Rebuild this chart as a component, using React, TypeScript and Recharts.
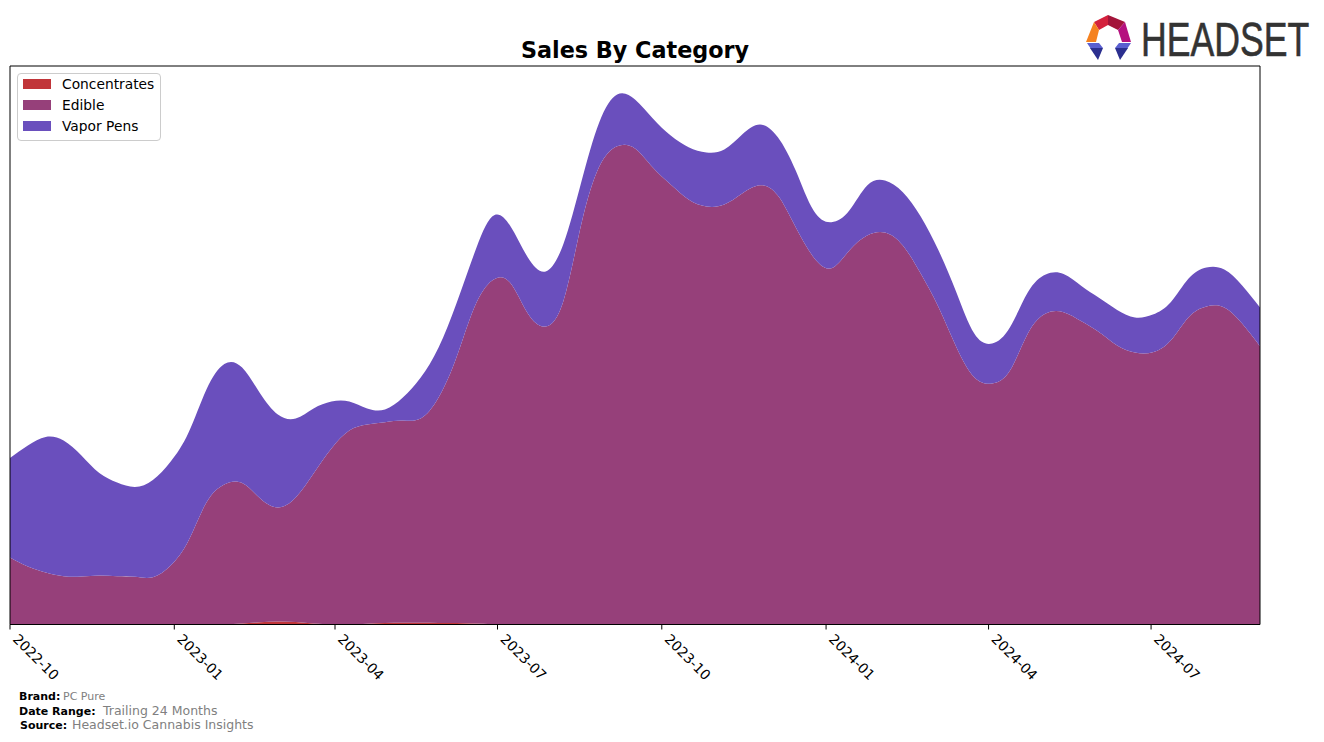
import { Area, AreaChart, Legend, ReferenceLine, XAxis, YAxis } from 'recharts';

// days since 2022-10-01, one reading every 10 days
const days = [
  0, 10, 20, 30, 40, 50, 60, 70, 80, 90, 100, 110, 120, 130, 140, 150, 160, 170, 180, 190, 200, 210, 220, 230,
  240, 250, 260, 270, 280, 290, 300, 310, 320, 330, 340, 350, 360, 370, 380, 390, 400, 410, 420, 430, 440, 450,
  460, 470, 480, 490, 500, 510, 520, 530, 540, 550, 560, 570, 580, 590, 600, 610, 620, 630, 640, 650, 660, 670,
  680, 690, 700,
];

const concentrates = [
  0, 0, 0, 0, 0, 0, 0, 0, 0, 0, 0, 0, 0.3, 1, 2.2, 3, 2.5, 1, 0.3, 0, 0.8, 1.6, 1.8, 1.8, 1.6, 1.4, 1, 0.3, 0, 0, 0, 0,
  0, 0, 0, 0, 0, 0, 0, 0, 0, 0, 0, 0, 0, 0, 0, 0, 0, 0, 0, 0, 0, 0, 0, 0, 0, 0, 0, 0, 0, 0, 0, 0, 0, 0, 0, 0, 0, 0, 0,
];

const edible = [
  67, 58, 52, 48.3, 48, 49, 48.3, 47.7, 47.3, 59, 84, 122, 139.7, 140.5, 124, 114, 124.5, 150, 175.7, 194, 199.2,
  200.7, 202.2, 204.2, 225.4, 265.6, 316, 343.7, 342, 311, 298, 324, 401, 458, 478.3, 476, 457, 440, 425, 418, 420,
  431, 439.3, 429, 397.3, 367.3, 356.3, 374, 389, 392, 379, 351, 317.3, 277.3, 247.3, 241, 254, 291, 311, 312.3,
  303.3, 292.3, 279, 272, 272.3, 284, 307.3, 318, 317, 301, 278.3,
];

const vaporPens = [
  99.5, 121, 135.5, 135.7, 121, 102.5, 93.7, 89.8, 97.2, 104, 108, 113, 120.5, 115.5, 105, 93, 79, 65, 47, 29, 16,
  12.7, 23, 41, 50, 54, 54, 64, 57, 56, 55, 57, 42, 44.3, 51.7, 49, 49, 49, 52.3, 54, 55, 59, 60.7, 58.3, 56.7,
  46.7, 46, 40, 50, 52, 53.3, 57, 56.7, 54.7, 43.7, 40, 43.3, 41.3, 39, 38.2, 35.2, 34.2, 35.5, 35, 37.7, 38.3, 38.7,
  39, 38, 38, 38.7,
];

const tickDays = [0, 92, 182, 273, 365, 457, 548, 639];
const tickLabels = ['2022-10', '2023-01', '2023-04', '2023-07', '2023-10', '2024-01', '2024-04', '2024-07'];

const seriesNames = ['Concentrates', 'Edible', 'Vapor Pens'];
const seriesColors = ['#c13539', '#96407a', '#6a4fbd'];

const FONT = '"DejaVu Sans", sans-serif';

const chartData = days.map((day, i) => ({
  day,
  Concentrates: concentrates[i],
  Edible: edible[i],
  'Vapor Pens': vaporPens[i],
}));

function RotatedTick({ x, y, payload }: any) {
  const label = tickLabels[tickDays.indexOf(payload.value)];
  return (
    <text
      x={x + 2}
      y={y + 8.5}
      transform={`rotate(45 ${x + 2} ${y + 8.5})`}
      fontFamily={FONT}
      fontSize={13.9}
      fill="#000"
    >
      {label}
    </text>
  );
}

function LegendBox() {
  return (
    <div
      style={{
        width: 142,
        height: 66,
        border: '1px solid #ccc',
        borderRadius: 4,
        background: '#fff',
        fontFamily: FONT,
        fontSize: 13.8,
        color: '#000',
        position: 'relative',
      }}
    >
      {seriesNames.map((name, i) => (
        <div key={name}>
          <span
            style={{
              position: 'absolute',
              left: 5,
              top: 5 + i * 21,
              width: 28,
              height: 10,
              background: seriesColors[i],
            }}
          />
          <span style={{ position: 'absolute', left: 44, top: 2 + i * 21, lineHeight: '16px', whiteSpace: 'nowrap' }}>
            {name}
          </span>
        </div>
      ))}
    </div>
  );
}

function Overlay() {
  return (
    <svg width={1324} height={742} style={{ position: 'absolute', left: 0, top: 0 }}>
      <text x={635} y={57.5} textAnchor="middle" fontFamily={FONT} fontSize={22.3} fontWeight="bold" fill="#000">
        Sales By Category
      </text>

      {/* logo */}
      <polygon points="1094,22 1108,15 1108,25 1099,30" fill="#d4213d" />
      <polygon points="1108,15 1125,22 1118,30 1108,25" fill="#a3143a" />
      <polygon points="1094,22 1099,30 1096,42 1086,42" fill="#f58220" />
      <polygon points="1125,22 1131,42 1122,42 1118,30" fill="#b5117f" />
      <polygon points="1087,43 1099,43 1103,48 1091,49" fill="#5a5fd0" />
      <polygon points="1090,48 1103,48 1098,60" fill="#2b2f8f" />
      <polygon points="1131,43 1119,43 1115,48 1127,49" fill="#5a5fd0" />
      <polygon points="1128,48 1115,48 1120,60" fill="#2b2f8f" />
      <text
        transform="translate(1141 56) scale(0.727 1)"
        fontFamily='"Liberation Sans", sans-serif'
        fontSize={49}
        fill="#333"
        stroke="#333"
        strokeWidth={0.6}
      >
        HEADSET
      </text>

      {/* footer */}
      <g fontFamily={FONT}>
        <text x={19} y={700} fontSize={11} fontWeight="bold" fill="#000">Brand:</text>
        <text x={63} y={700} fontSize={11} fill="#808080">PC Pure</text>
        <text x={19} y={715} fontSize={11} fontWeight="bold" fill="#000">Date Range:</text>
        <text x={103} y={715} fontSize={12.5} fill="#808080">Trailing 24 Months</text>
        <text x={20} y={729} fontSize={11} fontWeight="bold" fill="#000">Source:</text>
        <text x={72} y={729} fontSize={12.5} fill="#808080">Headset.io Cannabis Insights</text>
      </g>
    </svg>
  );
}

export default function App() {
  return (
    <div style={{ position: 'absolute', left: 0, top: 0, width: 1324, height: 742, background: '#fff' }}>
      <Overlay />
      <div style={{ position: 'absolute', left: 0, top: 0 }}>
        <AreaChart width={1324} height={742} data={chartData} margin={{ top: 66, right: 64, bottom: 0, left: 10 }}>
          <XAxis
            dataKey="day"
            type="number"
            domain={[0, 700]}
            ticks={tickDays}
            interval={0}
            height={117.5}
            axisLine={{ stroke: '#000', strokeWidth: 1 }}
            tickLine={{ stroke: '#000', strokeWidth: 1 }}
            tickSize={5}
            tick={<RotatedTick />}
          />
          <YAxis hide domain={[0, 558.5]} />
          {seriesNames.map((name, i) => (
            <Area
              key={name}
              type="natural"
              dataKey={name}
              stackId="sales"
              stroke="none"
              fill={seriesColors[i]}
              fillOpacity={1}
              dot={false}
              activeDot={false}
              isAnimationActive={false}
            />
          ))}
          <ReferenceLine x={0} stroke="#000" strokeWidth={1} />
          <ReferenceLine x={700} stroke="#000" strokeWidth={1} />
          <ReferenceLine y={558.5} stroke="#000" strokeWidth={1} />
          <Legend
            content={<LegendBox />}
            layout="vertical"
            align="center"
            verticalAlign="middle"
            wrapperStyle={{ left: 17, top: 73, width: 144, height: 68 }}
          />
        </AreaChart>
      </div>
    </div>
  );
}
